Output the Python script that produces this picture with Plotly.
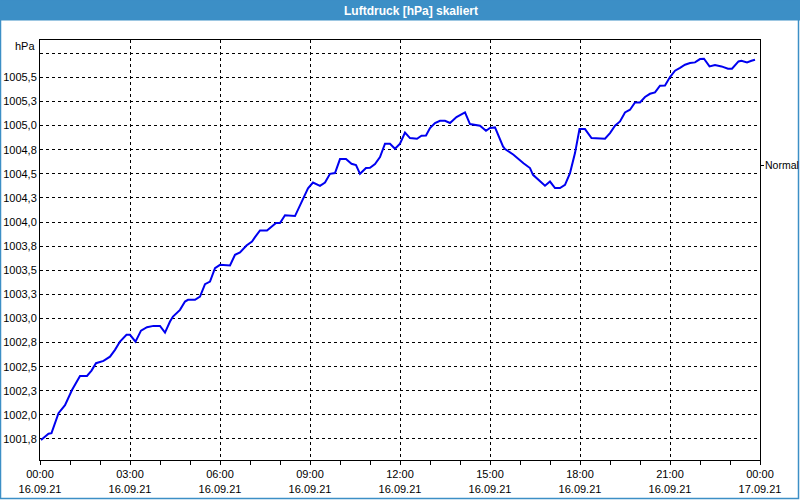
import plotly.graph_objects as go

# ---- data ----
times = ["00:02","00:10","00:17","00:23","00:37","00:50","01:04","01:20","01:34","01:43",
         "01:52","02:07","02:20","02:30","02:40","02:53","03:00","03:11","03:22","03:34",
         "03:47","04:00","04:10","04:20","04:26","04:40","04:50","04:56","05:10","05:20",
         "05:30","05:40","05:50","06:00","06:10","06:20","06:30","06:40","06:53","07:04",
         "07:10","07:20","07:34","07:43","07:52","08:00","08:10","08:30","08:43","08:56",
         "09:06","09:20","09:30","09:40","09:50","10:00","10:12","10:23","10:32","10:40",
         "10:52","11:00","11:10","11:20","11:30","11:40","11:50","12:00","12:10","12:20",
         "12:34","12:43","12:52","13:00","13:10","13:20","13:30","13:40","13:53","14:04",
         "14:10","14:20","14:34","14:40","14:52","15:00","15:10","15:20","15:26","15:30",
         "15:47","16:07","16:20","16:26","16:40","16:50","17:00","17:10","17:20","17:30",
         "17:40","17:50","17:59","18:10","18:23","18:37","18:50","19:00","19:10","19:20",
         "19:30","19:40","19:50","20:00","20:10","20:20","20:30","20:40","20:50","21:00",
         "21:10","21:20","21:30","21:40","21:50","22:00","22:08","22:19","22:30","22:43",
         "22:56","23:04","23:17","23:23","23:34","23:43","23:50"]
pressure = [1001.74,1001.78,1001.805,1001.81,1002.017,1002.10,1002.258,1002.404,1002.404,1002.459,
            1002.536,1002.56,1002.604,1002.674,1002.76,1002.83,1002.83,1002.76,1002.874,1002.909,
            1002.923,1002.923,1002.853,1002.968,1003.02,1003.089,1003.175,1003.193,1003.193,1003.227,
            1003.356,1003.383,1003.522,1003.556,1003.549,1003.549,1003.66,1003.684,1003.756,1003.798,
            1003.843,1003.912,1003.912,1003.947,1003.989,1003.989,1004.07,1004.062,1004.21,1004.35,
            1004.41,1004.376,1004.41,1004.50,1004.508,1004.653,1004.653,1004.604,1004.59,1004.50,
            1004.56,1004.563,1004.601,1004.674,1004.812,1004.812,1004.76,1004.812,1004.929,1004.871,
            1004.864,1004.895,1004.898,1004.975,1005.027,1005.05,1005.05,1005.027,1005.089,1005.12,
            1005.137,1005.016,1005.009,1004.999,1004.947,1004.975,1004.981,1004.856,1004.784,1004.757,
            1004.698,1004.61,1004.56,1004.49,1004.42,1004.376,1004.42,1004.352,1004.352,1004.386,
            1004.508,1004.715,1004.964,1004.964,1004.871,1004.864,1004.864,1004.923,1004.999,1005.043,
            1005.137,1005.165,1005.24,1005.24,1005.297,1005.33,1005.344,1005.414,1005.417,1005.504,
            1005.57,1005.60,1005.632,1005.649,1005.656,1005.69,1005.694,1005.614,1005.629,1005.614,
            1005.59,1005.59,1005.666,1005.673,1005.656,1005.673,1005.684]

x_tick_vals = ["2021-09-16 00:00","2021-09-16 03:00","2021-09-16 06:00","2021-09-16 09:00",
               "2021-09-16 12:00","2021-09-16 15:00","2021-09-16 18:00","2021-09-16 21:00",
               "2021-09-17 00:00"]
x_tick_text = ["00:00<br>16.09.21","03:00<br>16.09.21","06:00<br>16.09.21","09:00<br>16.09.21",
               "12:00<br>16.09.21","15:00<br>16.09.21","18:00<br>16.09.21","21:00<br>16.09.21",
               "00:00<br>17.09.21"]
y_tick_vals = [1001.75,1002.0,1002.25,1002.5,1002.75,1003.0,1003.25,1003.5,1003.75,
               1004.0,1004.25,1004.5,1004.75,1005.0,1005.25,1005.5,1005.75]
y_tick_text = ["1001,8","1002,0","1002,3","1002,5","1002,8","1003,0","1003,3","1003,5","1003,8",
               "1004,0","1004,3","1004,5","1004,8","1005,0","1005,3","1005,5",""]
normal_value = [1004.59]
normal_text = ["Normal"]
y_range = [1001.532, 1005.888]
title_text = "Luftdruck [hPa] skaliert"
unit_text = "hPa"

x_full = ["2021-09-16 " + t for t in times]

W, H = 800, 500
ML, MR, MT, MB = 40, 40, 40, 40
PW, PH = W - ML - MR, H - MT - MB


def px_x(p):
    return (p - ML) / PW


def px_y(p):
    return (H - MB - p) / PH


FONT = "Liberation Sans, Arial, sans-serif"
BLUE = "#3C8FC6"

fig = go.Figure()
fig.add_trace(go.Scatter(x=x_full, y=pressure, mode="lines",
                         line=dict(color="#0000F0", width=2), showlegend=False,
                         hoverinfo="skip"))
fig.add_trace(go.Scatter(x=[x_full[0]], y=[pressure[0]], yaxis="y2", mode="markers",
                         marker=dict(opacity=0), showlegend=False, hoverinfo="skip"))

fig.update_layout(
    width=W, height=H,
    margin=dict(l=ML, r=MR, t=MT, b=MB, autoexpand=False),
    paper_bgcolor="white", plot_bgcolor="white",
    font=dict(family=FONT, size=11, color="black"),
    xaxis=dict(
        type="date", automargin=False,
        range=["2021-09-16 00:00", "2021-09-17 00:00"],
        tickvals=x_tick_vals, ticktext=x_tick_text,
        ticks="outside", ticklen=4, tickcolor="black", tickwidth=1,
        showline=True, linecolor="black", linewidth=1, mirror=True,
        showgrid=True, gridcolor="black", gridwidth=1, griddash="3px,3px",
        minor=dict(dtick=3600000, ticks="outside", ticklen=4, tickcolor="black", showgrid=False),
        zeroline=False, fixedrange=True,
    ),
    yaxis=dict(
        range=y_range, automargin=False,
        tickvals=y_tick_vals, ticktext=y_tick_text,
        ticks="", showline=True, linecolor="black", linewidth=1, mirror=True,
        showgrid=True, gridcolor="black", gridwidth=1, griddash="3px,3px",
        zeroline=False, fixedrange=True,
    ),
    yaxis2=dict(
        overlaying="y", side="right", anchor="x", automargin=False,
        range=y_range, tickvals=normal_value, ticktext=[""],
        ticks="outside", ticklen=3, tickcolor="black",
        showgrid=False, showline=False, zeroline=False, fixedrange=True,
    ),
    shapes=[
        dict(type="rect", xref="paper", yref="paper",
             x0=px_x(0), x1=px_x(800), y0=px_y(0), y1=px_y(20.5),
             fillcolor=BLUE, line=dict(width=0), layer="above"),
        dict(type="rect", xref="paper", yref="paper",
             x0=px_x(0.5), x1=px_x(798.5), y0=px_y(0), y1=px_y(498.5),
             fillcolor="rgba(0,0,0,0)", line=dict(color=BLUE, width=1.5), layer="above"),
    ],
    annotations=[
        dict(text="<b>" + title_text + "</b>", xref="paper", yref="paper",
             x=px_x(411), y=px_y(10.5), xanchor="center", yanchor="middle",
             showarrow=False, font=dict(family=FONT, size=12, color="white")),
        dict(text=unit_text, xref="paper", yref="paper",
             x=px_x(37), y=px_y(46), xanchor="right", yanchor="middle",
             showarrow=False, font=dict(family=FONT, size=11, color="black")),
        dict(text=normal_text[0], xref="paper", yref="y",
             x=px_x(763.5), y=normal_value[0], xanchor="left", yanchor="middle",
             showarrow=False, borderpad=0, font=dict(family=FONT, size=10.5, color="black")),
    ],
)

fig.write_html("out.html")
